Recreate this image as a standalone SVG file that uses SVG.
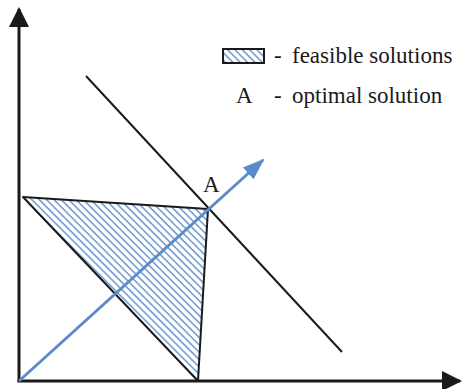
<svg xmlns="http://www.w3.org/2000/svg" width="462" height="389" viewBox="0 0 462 389">
<defs>
<pattern id="hatch" patternUnits="userSpaceOnUse" width="5.2" height="5.2" patternTransform="rotate(-45)">
<line x1="1" y1="0" x2="1" y2="5.2" stroke="#5b8bc8" stroke-width="1.35"/>
</pattern>
<marker id="blk" markerUnits="userSpaceOnUse" markerWidth="20" markerHeight="20" refX="18" refY="10" orient="auto" viewBox="0 0 20 20">
<path d="M0,0 L20,10 L0,20 z" fill="#1a1a1a"/>
</marker>
<marker id="blu" markerUnits="userSpaceOnUse" markerWidth="22" markerHeight="18" refX="20" refY="9" orient="auto" viewBox="0 0 22 18">
<path d="M0,1 L22,9 L0,17 z" fill="#5b8bc8"/>
</marker>
</defs>
<style>
.ax{stroke:#1a1a1a;stroke-width:3;fill:none}
.ln{stroke:#1a1a1a;stroke-width:2;fill:none}
.t{font-family:'Liberation Serif','Times New Roman',serif;font-size:23px;fill:#1a1a1a}
</style>
<rect width="462" height="389" fill="#fff"/>
<g id="region">
<polygon points="23,197 208,209 198,381" fill="url(#hatch)" stroke="#1a1a1a" stroke-width="2" stroke-linejoin="round"/>
</g>
<g id="connectors">
<line class="ax" x1="19" y1="382" x2="19" y2="9" marker-end="url(#blk)"/>
<line class="ax" x1="17.5" y1="381" x2="460" y2="381" marker-end="url(#blk)"/>
<line class="ln" x1="86" y1="76" x2="342" y2="352"/>
<line x1="19" y1="381" x2="263" y2="160" stroke="#5b8bc8" stroke-width="3" marker-end="url(#blu)"/>
</g>
<g id="labelA">
<text class="t" x="203" y="192">A</text>
</g>
<g id="legend">
<rect x="223" y="49" width="41" height="14" fill="url(#hatch)" stroke="#1a1a1a" stroke-width="2"/>
<text class="t" x="274" y="63">-</text>
<text class="t" x="292" y="63">feasible solutions</text>
<text class="t" x="236" y="103">A</text>
<text class="t" x="274" y="103">-</text>
<text class="t" x="292" y="103">optimal solution</text>
</g>
</svg>
